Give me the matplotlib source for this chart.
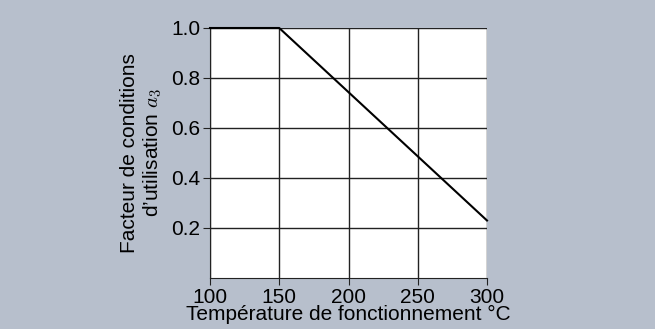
import matplotlib
matplotlib.use("Agg")
import matplotlib.pyplot as plt

temps = [100, 150, 300]
factor = [1.0, 1.0, 0.23]
xticks = [100, 150, 200, 250, 300]
yticks = [0.2, 0.4, 0.6, 0.8, 1.0]

plt.rcParams['font.family'] = ['Liberation Sans', 'DejaVu Sans']
plt.rcParams['mathtext.fontset'] = 'cm'

bg = '#b7bfcc'
fig = plt.figure(figsize=(6.55, 3.29), dpi=100, facecolor=bg)
ax = fig.add_axes([210/655, 1-278/329, 277/655, 250/329])
ax.set_facecolor('white')
ax.plot(temps, factor, color='black', lw=1.5, clip_on=False, zorder=3)
ax.set_xlim(100, 300)
ax.set_ylim(0, 1.0)
ax.set_xticks(xticks)
ax.set_yticks(yticks)
ax.set_yticklabels([f"{v:.1f}" for v in yticks])
ax.grid(True, color='#222222', lw=1.0)
for s in ['top', 'right']:
    ax.spines[s].set_visible(False)
for s in ['left', 'bottom']:
    ax.spines[s].set_color('#222222')
ax.tick_params(direction='out', length=5, labelsize=15, colors='#222222', labelcolor='black', pad=2)
ax.set_xlabel('Température de fonctionnement °C', fontsize=15, labelpad=-1)
ax.set_ylabel("Facteur de conditions\nd’utilisation $a_3$", fontsize=15, labelpad=5, linespacing=1.15)
fig.savefig('out.png', dpi=100, facecolor=bg)
